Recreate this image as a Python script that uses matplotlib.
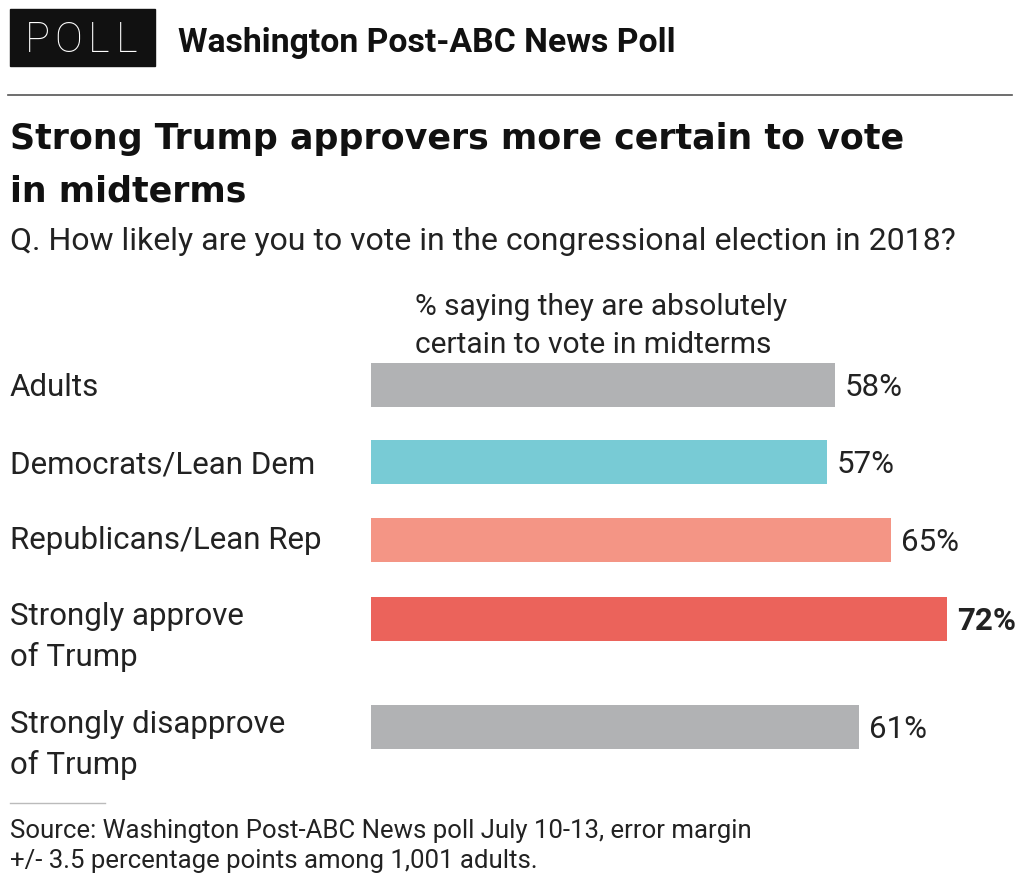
import matplotlib
matplotlib.use("Agg")
import matplotlib.pyplot as plt
from matplotlib.patches import Rectangle
from matplotlib.lines import Line2D

categories = ["Adults", "Democrats/Lean Dem", "Republicans/Lean Rep",
              "Strongly approve\nof Trump", "Strongly disapprove\nof Trump"]
values = [58, 57, 65, 72, 61]
value_labels = ["58%", "57%", "65%", "72%", "61%"]
colors = ["#b1b2b4", "#78cbd5", "#f49585", "#eb635b", "#b1b2b4"]

# layout (pixel rows, top = 0)
bar_centres = [385, 462, 540, 618.5, 726.5]
label_baselines = [396, 473, 549, 625, 733]
W, H = 1024, 885
ink = "#222222"
sans = "Roboto"

fig = plt.figure(figsize=(W / 100, H / 100), dpi=100)

def px(x, y):
    return x / W, 1 - y / H

# bar axes: x from 371 px to the right edge, 8 px per percent
ax = fig.add_axes([371 / W, 0, 1 - 371 / W, 1])
ax.set_xlim(0, (W - 371) / 8)
ax.set_ylim(H, 0)
ax.axis("off")
ax.barh(bar_centres, values, height=44, color=colors)
for v, yc, lab in zip(values, bar_centres, value_labels):
    ax.annotate(lab, (v, yc + 11), xytext=(10, 0), textcoords="offset pixels",
                va="baseline", ha="left", fontsize=22.5, color=ink, family=sans,
                fontweight="bold" if lab == "72%" else "normal")

# header
fig.patches.append(Rectangle(px(10, 66), 145 / W, 57 / H, transform=fig.transFigure,
                             color="#111111"))
# letters spaced out by hand, the box text is tracked wide
for i, ch in enumerate("POLL"):
    fig.text(*px(25 + [0, 29, 63, 91][i], 52), ch, color="white", fontsize=30,
             va="baseline", ha="left", family=sans, fontweight="light")
fig.text(*px(178, 52), "Washington Post-ABC News Poll", color="#111111", fontsize=24.3,
         va="baseline", ha="left", family=sans, fontweight="bold")
fig.lines.append(Line2D([8 / W, 1012 / W], [1 - 95 / H] * 2, transform=fig.transFigure,
                        color="#555555", lw=1.2))

fig.text(*px(10, 149), "Strong Trump approvers more certain to vote", fontsize=25.1,
         fontweight="bold", color="#111111", va="baseline", ha="left", family="DejaVu Sans")
fig.text(*px(10, 202), "in midterms", fontsize=25.1,
         fontweight="bold", color="#111111", va="baseline", ha="left", family="DejaVu Sans")
fig.text(*px(10, 250), "Q. How likely are you to vote in the congressional election in 2018?",
         fontsize=23, color=ink, va="baseline", ha="left", family=sans)

fig.text(*px(415, 315), "% saying they are absolutely", fontsize=21.5, color=ink,
         va="baseline", ha="left", family=sans)
fig.text(*px(415, 353), "certain to vote in midterms", fontsize=21.5, color=ink,
         va="baseline", ha="left", family=sans)

for cat, yb in zip(categories, label_baselines):
    for i, line in enumerate(cat.split("\n")):
        fig.text(*px(10, yb + 41 * i), line, fontsize=22.5, color=ink,
                 va="baseline", ha="left", family=sans)

fig.lines.append(Line2D([10 / W, 105 / W], [1 - 803 / H] * 2, transform=fig.transFigure,
                        color="#bbbbbb", lw=1))
fig.text(*px(10, 838), "Source: Washington Post-ABC News poll July 10-13, error margin",
         fontsize=18.5, color=ink, va="baseline", ha="left", family=sans)
fig.text(*px(10, 868), "+/- 3.5 percentage points among 1,001 adults.",
         fontsize=18.5, color=ink, va="baseline", ha="left", family=sans)

fig.savefig("out.png", dpi=100, facecolor="white")
